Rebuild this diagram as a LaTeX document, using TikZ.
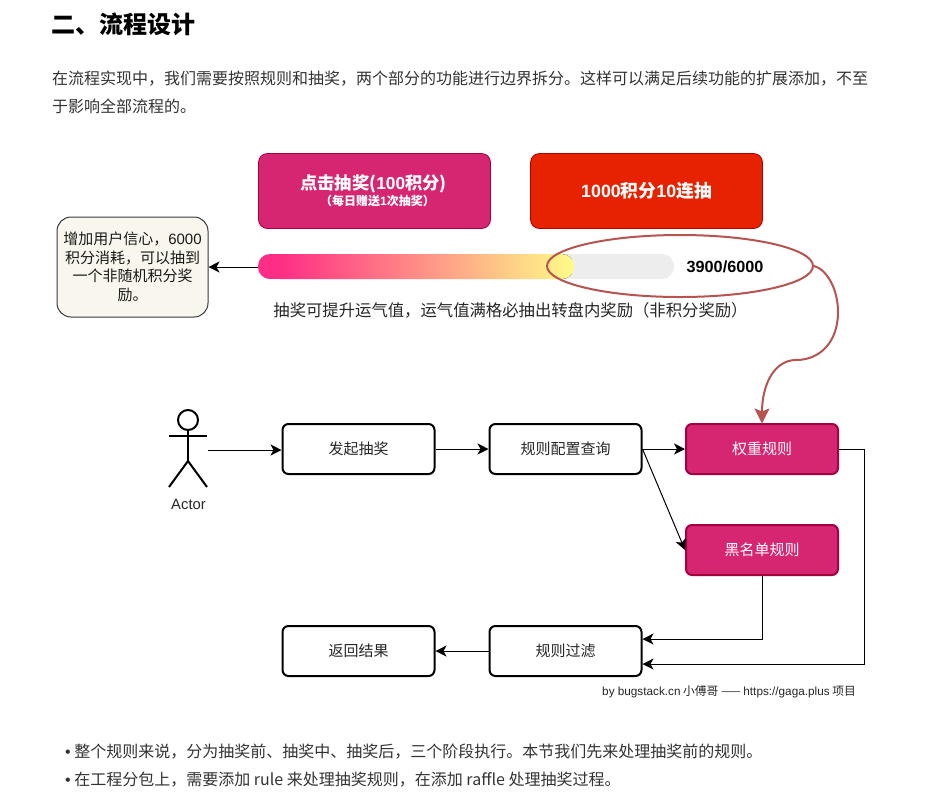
\documentclass[tikz,border=0pt]{standalone}
\usepackage{fontspec}
\setmainfont{Noto Sans CJK SC}
\newfontfamily\lat{Liberation Sans}
\usetikzlibrary{arrows.meta,calc,shapes.geometric}
\definecolor{pinkbox}{HTML}{D62672}
\definecolor{pinkline}{HTML}{A50040}
\definecolor{redbox}{HTML}{E62200}
\definecolor{redline}{HTML}{B20000}
\definecolor{curve}{HTML}{B85450}
\definecolor{notefill}{HTML}{F9F7ED}
\definecolor{notedraw}{HTML}{36393D}
\definecolor{bodytxt}{HTML}{333333}
\definecolor{barpink}{HTML}{FF2D85}
\definecolor{baryellow}{HTML}{FFFA88}
\newcommand{\fs}[1]{\fontsize{#1}{#1}\selectfont}
\tikzset{
  flowbox/.style={draw=black,line width=2pt,fill=white,rounded corners=6pt,minimum width=152pt,minimum height=50pt,inner sep=0pt,font=\fs{15}\color{black!85},align=center},
  rulebox/.style={flowbox,draw=pinkline,fill=pinkbox,font=\fs{15}\color{white}},
  topbox/.style={draw=pinkline,fill=pinkbox,line width=0.8pt,rounded corners=9pt,minimum width=232pt,minimum height=75pt,inner sep=0pt,text=white,align=center},
  conn/.style={draw=black,line width=1pt,-{Stealth[inset=3pt,length=11pt,width=11pt]}},
  para/.style={anchor=west,inner sep=0pt,font=\fs{16}\color{bodytxt}},
  actorline/.style={line width=2pt,draw=black}
}
\begin{document}
\begin{tikzpicture}[x=1pt,y=-1pt]
\useasboundingbox[fill=white] (0,0) rectangle (933,807);
% page text
\node[anchor=west,inner sep=0pt,font=\fs{24}\bfseries] (title) at (51.5,24) {二、流程设计};
\node[para] (p1) at (52,78.5) {在流程实现中，我们需要按照规则和抽奖，两个部分的功能进行边界拆分。这样可以满足后续功能的扩展添加，不至};
\node[para] (p2) at (52,106.5) {于影响全部流程的。};
% top buttons
\node[topbox] (btnA) at (374.5,191) {};
\node[inner sep=0pt,text=white,font=\fs{17.3}\bfseries] (btnAa) at (373.5,184) {点击抽奖({\lat 100}积分)};
\node[inner sep=0pt,text=white,font=\fs{12}\bfseries] (btnAb) at (377.5,201) {（每日赠送{\lat 1}次抽奖）};
\node[topbox,draw=redline,fill=redbox,font=\fs{17.8}\bfseries] (btnB) at (646.5,191) {{\lat 1000}积分{\lat 10}连抽};
% progress bar
\fill[fill=black!7,rounded corners=12pt] (258,254) rectangle (674,279);
\begin{scope}
\clip[rounded corners=12pt] (258,254) rectangle (574,279);
\fill[left color=barpink,right color=baryellow] (280,254) rectangle (572,279);
\fill[barpink] (258,254) rectangle (280.5,279);
\fill[baryellow] (571.5,254) rectangle (574,279);
\end{scope}
\coordinate (barL) at (258,267);
\node[inner sep=0pt,font=\lat\fs{16.2}\bfseries] (score) at (725,266.5) {3900/6000};
\node[draw=curve,line width=2pt,ellipse,minimum width=266pt,minimum height=62pt,inner sep=0pt] (ell) at (680,266) {};
\node[draw=notedraw,fill=notefill,line width=1pt,rounded corners=14pt,minimum width=151pt,minimum height=100pt,inner sep=0pt,align=center,font=\fs{15}\color{black!90}] (note) at (132.5,267)
 {\begin{minipage}{150pt}\centering\baselineskip=18.5pt 增加用户信心，{\lat 6000}\\积分消耗，可以抽到\\一个非随机积分奖\\励。\end{minipage}};
\draw[conn] (barL) -- (note.east);
\node[inner sep=0pt,font=\fs{16.35}\color{black!85}] (cap) at (506.5,310.5) {\hspace{8pt}抽奖可提升运气值，运气值满格必抽出转盘内奖励（非积分奖励）};
% actor
\draw[actorline] (188,420) circle (10);
\draw[actorline] (188,430) -- (188,461);
\draw[actorline] (169,436) -- (207,436);
\draw[actorline] (169,487) -- (188,461) -- (207,487);
\node[inner sep=0pt,font=\lat\fs{14.8}\color{black!85}] (actor) at (188.5,504.5) {Actor};
\coordinate (actorR) at (208,450);
% flow boxes
\node[flowbox] (start) at (358.5,449) {发起抽奖};
\node[flowbox] (query) at (565.5,449) {规则配置查询};
\node[rulebox] (weight) at (762,449) {权重规则};
\node[rulebox] (black) at (762,550) {黑名单规则};
\node[flowbox] (filter) at (565.5,651) {规则过滤};
\node[flowbox] (result) at (358.5,651) {返回结果};
\draw[conn] (actorR) -- (actorR -| start.west);
\draw[conn] (start) -- (query);
\draw[conn] (query.east) -- (weight.west);
\draw[conn] (query.east) -- (black.west);
\draw[conn] (filter) -- (result);
\coordinate (fa) at ($(filter.east)+(0,-12)$);
\coordinate (fb) at ($(filter.east)+(0,13)$);
\draw[conn] (black.south) -- (black.south |- fa) -- (fa);
\coordinate (wr) at ($(weight.east)+(25.5,0)$);
\draw[conn] (weight.east) -- (wr) -- (wr |- fb) -- (fb);
% red curve
\draw[draw=curve,line width=2pt,-{Stealth[inset=3pt,length=15pt,width=15pt]}]
  (ell.east) .. controls (826,269) and (838,288) .. (838,312)
  .. controls (838,342) and (820,360) .. (796,360)
  .. controls (774,360) and (762,385) .. (762,423.5);
\node[inner sep=0pt,font=\fs{11.75}\color{black!85}] (credit) at (729,692) {{\lat by bugstack.cn} 小傅哥 —— {\lat https://gaga.plus} 项目};
% bullets
\node[para] (b1) at (65,751.5) {{\lat •} 整个规则来说，分为抽奖前、抽奖中、抽奖后，三个阶段执行。本节我们先来处理抽奖前的规则。};
\node[para] (b2) at (65,779.5) {{\lat •} 在工程分包上，需要添加 rule 来处理抽奖规则，在添加 raffle 处理抽奖过程。};
\end{tikzpicture}
\end{document}
